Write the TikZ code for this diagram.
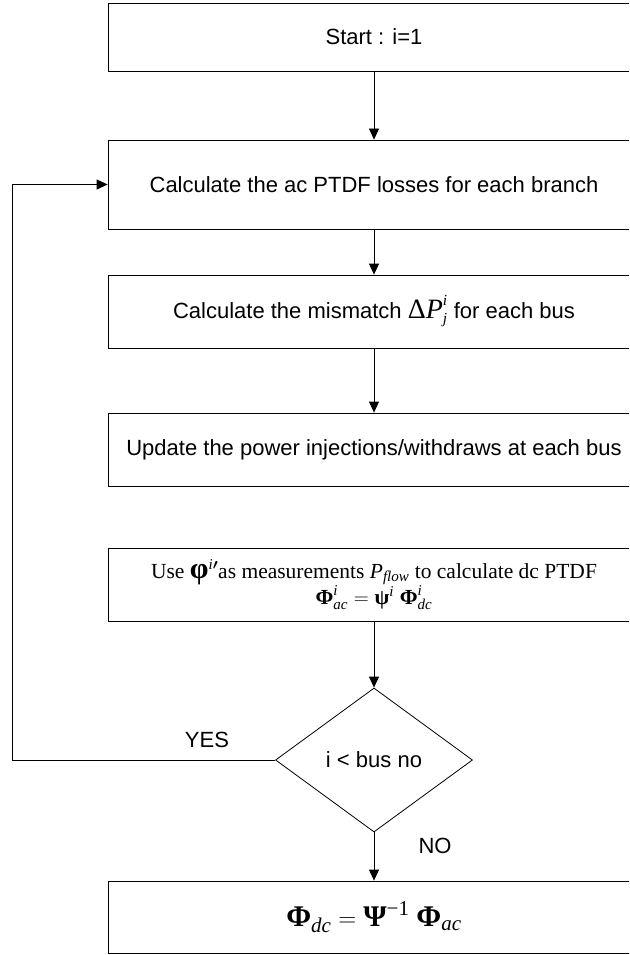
\documentclass[tikz,border=0pt]{standalone}
\usepackage{amsmath}
\usepackage{amsbsy}
\usepackage[no-math]{fontspec}
\setmainfont{Liberation Sans}
\newfontfamily\tms{Liberation Serif}
\usetikzlibrary{arrows.meta,shapes.geometric}
\newcommand\ti[1]{\text{\tms\itshape #1}}
\newcommand\tb[1]{\text{\tms\bfseries #1}}
\newcommand\tr[1]{\text{\tms #1}}
\tikzset{
  stepbox/.style={draw, line width=0.8pt, minimum width=532pt, inner sep=0pt,
    font=\fontsize{22}{26}\selectfont, align=center},
  decbox/.style={draw, diamond, line width=0.8pt, minimum width=197pt,
    minimum height=144pt, inner sep=0pt, font=\fontsize{22}{26}\selectfont},
  arr/.style={draw, line width=0.8pt, -{Triangle[length=11pt,width=10pt]}},
  lbl/.style={font=\fontsize{22}{26}\selectfont, inner sep=0pt}
}
\begin{document}
\begin{tikzpicture}[x=1pt,y=-1pt]
\useasboundingbox (0,0) rectangle (629,955);
\clip (0,0) rectangle (629,955);
\node[stepbox, minimum height=68pt] (start) at (374,37) {Start : i=1};
\node[stepbox, minimum height=89pt] (calc) at (374,184.5) {Calculate the ac PTDF losses for each branch};
\node[stepbox, minimum height=73pt] (mism) at (374,311.5)
  {Calculate the mismatch $\text{\tms\fontsize{28}{28}\selectfont Δ\itshape P}^{\ti{i}}_{\ti{j}}$ for each bus};
\node[stepbox, minimum height=73pt] (upd) at (374,449.5) {Update the power injections/withdraws at each bus};
\node[stepbox, minimum height=73pt, font=\fontsize{21.5}{24}\selectfont\tms] (use) at (374,584.5)
  {Use $\text{\tms\bfseries\fontsize{30}{30}\selectfont φ}^{\ti{i}\boldsymbol{\prime}}$as measurements $\ti{P}_{\ti{flow}}$ to calculate dc PTDF\\
   $\tb{Φ}^{\ti{i}}_{\ti{ac}} = \tb{ψ}^{\ti{i}}\;\tb{Φ}^{\ti{i}}_{\ti{dc}}$};
\node[decbox] (dec) at (374,760) {i < bus no};
\node[stepbox, minimum height=72pt, font=\fontsize{30}{33}\selectfont\tms] (fin) at (374,917)
  {$\tb{Φ}_{\ti{dc}} = \tb{Ψ}^{\tr{−1}}\;\tb{Φ}_{\ti{ac}}$};
\coordinate (loopc) at (12,760);
\draw[arr] (start.south) -- (calc.north);
\draw[arr] (calc.south) -- (mism.north);
\draw[arr] (mism.south) -- (upd.north);
\draw[arr] (use.south) -- (dec.north);
\draw[arr] (dec.south) -- (fin.north);
\draw[arr] (dec.west) -- (loopc) |- (calc.west);
\node[lbl] (yes) at (207,740) {YES};
\node[lbl] (no) at (435,846) {NO};
\end{tikzpicture}
\end{document}
